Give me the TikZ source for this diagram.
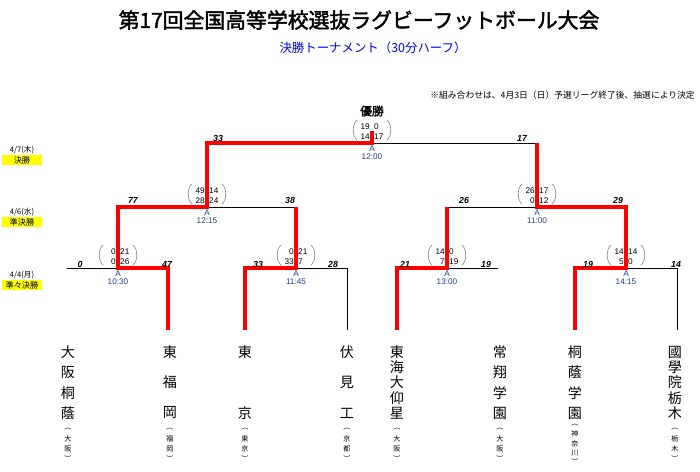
\documentclass[tikz,border=0pt]{standalone}
\usepackage{fontspec}
\setmainfont{Noto Sans CJK JP}[AutoFakeBold=2]
\newfontfamily\numfont{Liberation Sans}
\usetikzlibrary{positioning, calc}
\definecolor{winRed}{HTML}{FF0000}
\definecolor{subBlue}{HTML}{0000FF}
\definecolor{timeBlue}{HTML}{1F3C88}
\definecolor{dayYellow}{HTML}{FFFF00}
\definecolor{parenGray}{HTML}{8C8C8C}
\tikzset{
  titletext/.style={font=\bfseries\fontsize{17.8}{18}\selectfont, inner sep=0pt},
  subtitle/.style={font=\fontsize{10.6}{11}\selectfont, text=subBlue, inner sep=0pt},
  notetext/.style={font=\fontsize{7.5}{8}\selectfont, inner sep=0pt},
  daytext/.style={font=\fontsize{6.5}{7}\selectfont, inner sep=0pt},
  roundbox/.style={fill=dayYellow, minimum width=1.17cm, minimum height=0.3cm,
    font=\fontsize{7}{7}\selectfont, inner sep=0pt},
  lose/.style={line width=0.8pt, black},
  win/.style={line width=2.8pt, winRed},
  pts/.style={font=\numfont\bfseries\itshape\fontsize{7.5}{8}\selectfont, inner sep=0pt},
  half/.style={font=\numfont\fontsize{7}{7}\selectfont, inner sep=0pt},
  venue/.style={font=\numfont\fontsize{7}{7}\selectfont, text=timeBlue, inner sep=0pt},
  paren/.style={parenGray, line width=0.6pt},
  teamch/.style={font=\fontsize{12}{12}\selectfont, inner sep=0pt},
  prefch/.style={font=\fontsize{6}{6}\selectfont, inner sep=0pt},
  champ/.style={font=\bfseries\fontsize{10}{10}\selectfont, inner sep=0pt}
}
% #1 x of match, #2 y of line, #3-#6 half scores, #7 kickoff
\newcommand\matchbox[7]{%
  \node[half, anchor=east] at (#1-2,#2-16) {#3};
  \node[half, anchor=west] at (#1+2,#2-16) {#4};
  \node[half, anchor=east] at (#1-2,#2-6) {#5};
  \node[half, anchor=west] at (#1+2,#2-6) {#6};
  \draw[paren] (#1-15,#2-23) .. controls (#1-20,#2-19) and (#1-20,#2-7) .. (#1-15,#2-3);
  \draw[paren] (#1+15,#2-23) .. controls (#1+20,#2-19) and (#1+20,#2-7) .. (#1+15,#2-3);
  \node[venue] at (#1,#2+6) {A};
  \node[venue] at (#1,#2+14) {#7};}
% #1 x, #2 step, #3 chars
\newcommand\teamname[3]{%
  \foreach \ch [count=\i from 0] in {#3}
    \node[teamch] at (#1,352+\i*#2) {\ch};}
% #1 x, #2 first y, #3 step, #4 chars
\newcommand\prefname[4]{%
  \foreach \ch [count=\i from 0] in {#4}
    \node[prefch] at (#1,#2+\i*#3) {\ch};}

\begin{document}
\begin{tikzpicture}[x=0.03cm, y=-0.03cm]
  \useasboundingbox (0,0) rectangle (700,471);

  \node[titletext] (title) at (359,20) {第17回全国高等学校選抜ラグビーフットボール大会};
  \node[subtitle] (sub) at (373,48) {決勝トーナメント（30分ハーフ）};
  \node[notetext, anchor=east] (note) at (695,95)
    {※組み合わせは、4月3日（日）予選リーグ終了後、抽選により決定};

  % round labels
  \node[daytext] (d1) at (22,150) {4/7(木)};
  \node[roundbox, below=0.03cm of d1] (r1) {決勝};
  \node[daytext] (d2) at (22,212) {4/6(水)};
  \node[roundbox, below=0.03cm of d2] (r2) {準決勝};
  \node[daytext] (d3) at (22,275) {4/4(月)};
  \node[roundbox, below=0.03cm of d3] (r3) {準々決勝};

  % bracket points
  \coordinate (t1L) at (67,268);
  \coordinate (t2) at (168,330);
  \coordinate (t3) at (245,330);
  \coordinate (t4) at (347,330);
  \coordinate (t5) at (397,330);
  \coordinate (t6R) at (498,268);
  \coordinate (t7) at (575,330);
  \coordinate (t8) at (677,330);
  \coordinate (q1) at (118,268);
  \coordinate (q2) at (296,268);
  \coordinate (q3) at (447,268);
  \coordinate (q4) at (626,268);
  \coordinate (s1L) at (118,207);
  \coordinate (s1) at (207,207);
  \coordinate (s1R) at (296,207);
  \coordinate (s2L) at (447,207);
  \coordinate (s2) at (537,207);
  \coordinate (s2R) at (626,207);
  \coordinate (fL) at (207,143);
  \coordinate (f) at (372,143);
  \coordinate (fR) at (537,143);
  \coordinate (top) at (372,131);

  \draw[lose] (t1L) -- (q1);
  \draw[lose] (q2) -| (t4);
  \draw[lose] (q3) -- (t6R);
  \draw[lose] (q4) -| (t8);
  \draw[lose] (s1) -- (s1R);
  \draw[lose] (s2L) -- (s2);
  \draw[lose] (f) -- (fR);

  \draw[win] (t2) |- (q1) -- (s1L) -- (s1) -- (fL) -- (f) -- (top);
  \draw[win] (t3) |- (q2) -- (s1R);
  \draw[win] (t5) |- (q3) -- (s2L);
  \draw[win] (t7) |- (q4) -- (s2R) -- (s2) -- (fR);

  % scores
  \node[champ] (win) at (372,111) {優勝};
  \matchbox{372}{143}{19}{0}{14}{17}{12:00}
  \matchbox{207}{207}{49}{14}{28}{24}{12:15}
  \matchbox{537}{207}{26}{17}{0}{12}{11:00}
  \matchbox{118}{268}{0}{21}{0}{26}{10:30}
  \matchbox{296}{268}{0}{21}{33}{7}{11:45}
  \matchbox{447}{268}{14}{0}{7}{19}{13:00}
  \matchbox{626}{268}{14}{14}{5}{0}{14:15}

  \node[pts] at (218,138) {33};
  \node[pts] at (522,138) {17};
  \node[pts] at (133,200) {77};
  \node[pts] at (290,200) {38};
  \node[pts] at (464,200) {26};
  \node[pts] at (618,200) {29};
  \node[pts] at (80,264) {0};
  \node[pts] at (167,264) {47};
  \node[pts] at (258,264) {33};
  \node[pts] at (333,264) {28};
  \node[pts] at (405,264) {21};
  \node[pts] at (486,264) {19};
  \node[pts] at (588,264) {19};
  \node[pts] at (676,264) {14};

  % teams
  \teamname{68}{20.33}{大,阪,桐,蔭}
  \prefname{68}{429}{10}{︵,大,阪,︶}
  \teamname{170}{30.5}{東,福,岡}
  \prefname{170}{429}{10}{︵,福,岡,︶}
  \teamname{245}{61}{東,京}
  \prefname{245}{429}{10}{︵,東,京,︶}
  \teamname{347}{30.5}{伏,見,工}
  \prefname{347}{429}{10}{︵,京,都,︶}
  \teamname{397}{15.25}{東,海,大,仰,星}
  \prefname{397}{429}{10}{︵,大,阪,︶}
  \teamname{500}{20.33}{常,翔,学,園}
  \prefname{500}{429}{10}{︵,大,阪,︶}
  \teamname{575}{20.33}{桐,蔭,学,園}
  \prefname{575}{425}{9.25}{︵,神,奈,川,︶}
  \teamname{675}{15.25}{國,學,院,栃,木}
  \prefname{675}{429}{10}{︵,栃,木,︶}
\end{tikzpicture}
\end{document}
